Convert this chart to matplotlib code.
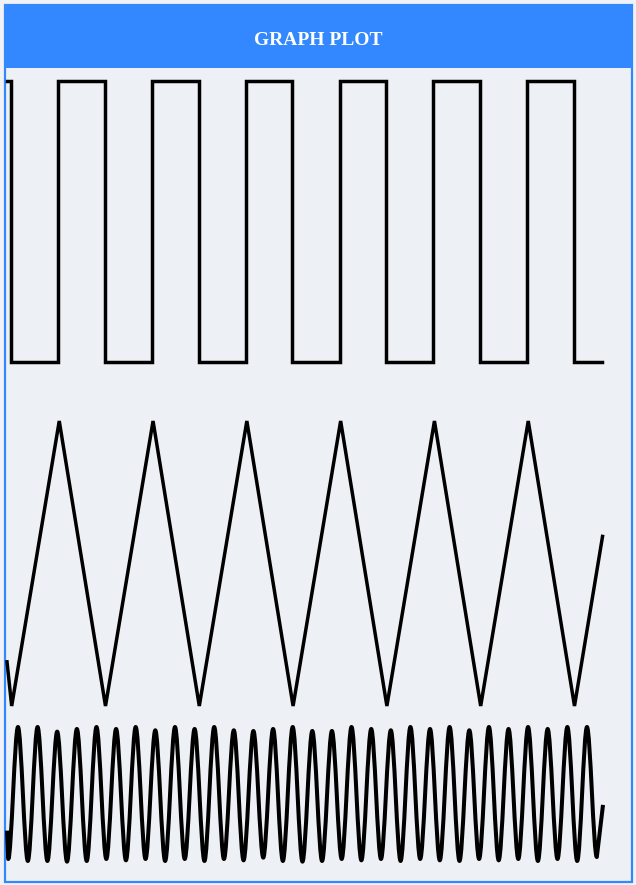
import matplotlib
matplotlib.use("Agg")
import matplotlib.pyplot as plt
from matplotlib.patches import Rectangle, PathPatch
from matplotlib.path import Path

# time axis in square-wave periods, amplitudes normalised to +-1
sq_t = [0.0, 0.043, 0.545, 1.043, 1.545, 2.043, 2.545, 3.043, 3.545,
        4.043, 4.545, 5.043, 5.545, 6.043, 6.343]
sq_v = [1, -1, 1, -1, 1, -1, 1, -1, 1, -1, 1, -1, 1, -1, -1]

tri_t = [0.0, 0.05, 0.557, 1.05, 1.557, 2.05, 2.557, 3.05, 3.557,
         4.05, 4.557, 5.05, 5.557, 6.05, 6.349]
tri_v = [-0.69, -1, 1, -1, 1, -1, 1, -1, 1, -1, 1, -1, 1, -1, 0.19]

# sine: start, then alternating troughs / peaks, then end
sin_t = [0.0, 0.013, 0.117, 0.222, 0.326, 0.431, 0.535, 0.640, 0.745, 0.850,
         0.954, 1.059, 1.163, 1.268, 1.372, 1.477, 1.581, 1.686, 1.791, 1.895,
         2.000, 2.105, 2.209, 2.313, 2.418, 2.522, 2.627, 2.732, 2.837, 2.941,
         3.046, 3.150, 3.255, 3.359, 3.464, 3.568, 3.673, 3.778, 3.883, 3.987,
         4.092, 4.196, 4.301, 4.405, 4.510, 4.614, 4.719, 4.824, 4.929, 5.033,
         5.138, 5.242, 5.347, 5.451, 5.555, 5.660, 5.764, 5.869, 5.974, 6.079,
         6.183, 6.288, 6.354]
sin_v = [-0.57,
         -1.0, 1.0, -1.03, 1.0, -1.03, 0.93, -1.04, 0.97, -1.03, 1.0,
         -1.0, 0.97, -1.02, 1.0, -1.0, 0.95, -1.03, 1.0, -1.0, 0.97,
         -1.03, 1.0, -1.0, 0.95, -1.02, 0.94, -0.98, 0.97, -1.03, 1.0,
         -1.04, 0.94, -1.03, 0.94, -1.0, 1.0, -1.02, 0.97, -1.0, 0.95,
         -1.03, 1.0, -1.0, 0.97, -1.02, 1.0, -1.03, 0.95, -1.0, 1.0,
         -1.02, 0.97, -1.0, 1.0, -1.03, 0.97, -1.0, 1.0, -1.03, 1.0,
         -0.97,
         -0.18]

W, H = 636, 885
BG = "#edf1f5"
BLUE = "#3388ff"
LINE = "#000000"
LW = 2.5

fig = plt.figure(figsize=(W / 100, H / 100), dpi=100, facecolor="#f0f2f5")


def fx(px):
    return px / W


def fy(py):
    return 1 - py / H


# card + header (drawn below the axes)
fig.patches.append(Rectangle((fx(4.5), fy(881.5)), fx(627), 877 / H,
                             transform=fig.transFigure, facecolor=BG,
                             edgecolor=BLUE, linewidth=1.6, zorder=-2))
fig.patches.append(Rectangle((fx(4), fy(68)), fx(628), 64 / H,
                             transform=fig.transFigure, facecolor=BLUE,
                             edgecolor="none", zorder=-1))
fig.text(fx(318), fy(45), "GRAPH PLOT", ha="center", va="baseline",
         color="white", fontsize=14, fontweight="bold",
         family=["Liberation Serif", "DejaVu Serif"])

xlim = (-7 / 93.8, (W - 7) / 93.8)


def wave_axes(top_px, bottom_px):
    ax = fig.add_axes([0, fy(bottom_px), 1, (bottom_px - top_px) / H])
    ax.set_xlim(*xlim)
    ax.set_ylim(-1, 1)
    ax.axis("off")
    ax.patch.set_alpha(0)
    return ax


def smooth_path(ts, vs):
    # curves between extrema, straight partial segments at both ends
    k = 0.33
    verts = [(ts[0], vs[0]), (ts[1], vs[1])]
    codes = [Path.MOVETO, Path.LINETO]
    for i in range(2, len(ts) - 1):
        h = ts[i] - ts[i - 1]
        verts += [(ts[i - 1] + k * h, vs[i - 1]), (ts[i] - k * h, vs[i]),
                  (ts[i], vs[i])]
        codes += [Path.CURVE4] * 3
    verts.append((ts[-1], vs[-1]))
    codes.append(Path.LINETO)
    return Path(verts, codes)


ax1 = wave_axes(81, 362)
ax1.step(sq_t, sq_v, where="post", color=LINE, lw=LW, clip_on=False,
         solid_joinstyle="miter")

ax2 = wave_axes(421, 706)
ax2.plot(tri_t, tri_v, color=LINE, lw=LW, clip_on=False,
         solid_joinstyle="miter")

ax3 = wave_axes(727, 859)
ax3.add_patch(PathPatch(smooth_path(sin_t, sin_v), facecolor="none",
                        edgecolor=LINE, lw=2.9, clip_on=False,
                        joinstyle="round"))

fig.savefig("out.png", dpi=100, facecolor=fig.get_facecolor())
